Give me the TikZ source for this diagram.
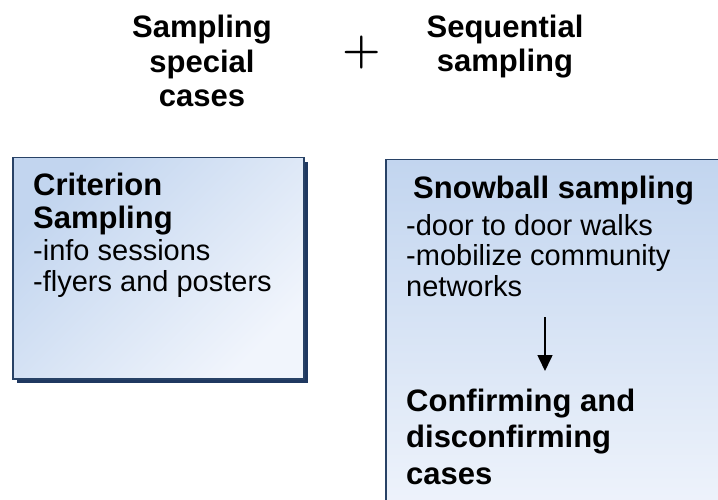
\documentclass[tikz,border=0pt]{standalone}
\usepackage{fontspec}
\newfontfamily\arialfont{Liberation Sans}
\usetikzlibrary{arrows.meta,shadows}
\definecolor{boxtop}{RGB}{194,213,239}
\definecolor{boxbot}{RGB}{241,245,252}
\definecolor{boxline}{RGB}{40,66,102}
\definecolor{boxshadow}{RGB}{31,56,96}

\begin{document}
\begin{tikzpicture}[x=1pt, y=-1pt,
  head/.style = {font=\arialfont\bfseries\fontsize{31}{34.5}\selectfont, align=center, inner sep=0pt, anchor=base},
  title/.style = {font=\arialfont\bfseries\fontsize{31}{36.5}\selectfont, align=left, inner sep=0pt, anchor=base west},
  item/.style = {font=\arialfont\fontsize{29}{30.5}\selectfont, align=left, inner sep=0pt, anchor=base west},
  box/.style = {draw=boxline, line width=1.5pt, inner sep=0pt, anchor=north west,
    drop shadow={shadow xshift=4pt, shadow yshift=-4pt, fill=boxshadow, opacity=1}},
  arr/.style = {line width=1.6pt, -{Triangle[width=15pt,length=16pt]}}]
\useasboundingbox (0,0) rectangle (718,500);
\clip (0,0) rectangle (718,500);

% headings (base = last line)
\node[head] (special) at (202,107) {Sampling\\special\\cases};
\node[head] (sequential) at (505,72) {Sequential\\sampling};
\node[inner sep=0pt, font=\bfseries\fontsize{44}{44}\selectfont] (plus) at (362,53) {+};

% left box
\node[box, minimum width=291pt, minimum height=221pt,
  top color=boxtop, bottom color=boxbot, shading angle=45] (critbox) at (12,157) {};
\node[title, font=\arialfont\bfseries\fontsize{31}{33}\selectfont] (crit) at (33,229) {Criterion\\Sampling};
\node[item] (critlist) at (33,291) {-info sessions\\-flyers and posters};

% right box
\node[box, minimum width=360pt, minimum height=370pt,
  top color=boxtop, bottom color=boxbot] (snowbox) at (385,159) {};
\node[title] (snow) at (413,199) {Snowball sampling};
\node[item] (snowlist) at (406,296) {-door to door walks\\-mobilize community\\networks};
\node[title] (confirm) at (406,484) {Confirming and\\disconfirming\\cases};

\coordinate (from) at (545,317);
\coordinate (to) at (545,371);
\draw[arr] (from) -- (to);
\end{tikzpicture}
\end{document}
